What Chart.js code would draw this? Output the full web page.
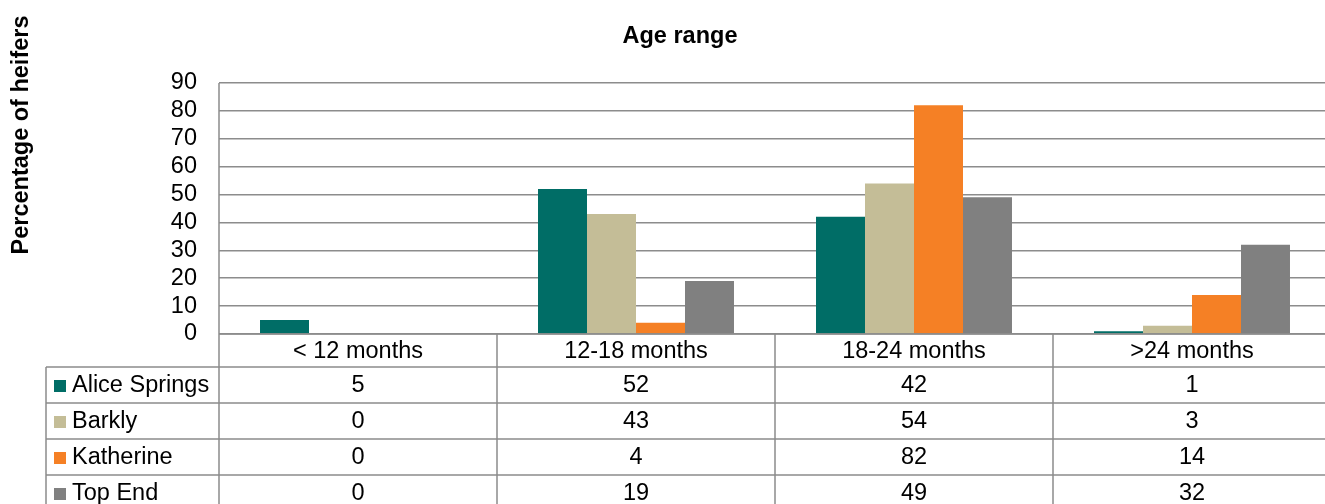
<!DOCTYPE html>
<html>
<head>
<meta charset="utf-8">
<script src="https://cdn.jsdelivr.net/npm/chart.js@4.4.1/dist/chart.umd.min.js"></script>
<style>
  html, body { margin: 0; padding: 0; background: #fff; overflow: hidden; }
  #wrap { width: 1360px; height: 504px; }
</style>
</head>
<body>
<div id="wrap"><canvas id="heiferChart" width="1360" height="504"></canvas></div>
<script>
// Age range categories and the percentage of heifers per region
const categories = ['< 12 months', '12-18 months', '18-24 months', '>24 months'];
const aliceSprings = [5, 52, 42, 1];
const barkly = [0, 43, 54, 3];
const katherine = [0, 4, 82, 14];
const topEnd = [0, 19, 49, 32];
const yTicks = [0, 10, 20, 30, 40, 50, 60, 70, 80, 90];

const FONT = '"Liberation Sans", Arial, sans-serif';
const LINE = '#8c8c8c';

const seriesList = [
  { label: 'Alice Springs', data: aliceSprings, color: '#006d66' },
  { label: 'Barkly', data: barkly, color: '#c4bd97' },
  { label: 'Katherine', data: katherine, color: '#f58025' },
  { label: 'Top End', data: topEnd, color: '#808080' }
];

// Draws the title, rotated axis title and the data table under the bars
const tablePlugin = {
  id: 'dataTable',
  afterDraw(chart) {
    const ctx = chart.ctx;
    const area = chart.chartArea;
    const xs = chart.scales.x;
    const half = (xs.getPixelForValue(1) - xs.getPixelForValue(0)) / 2;
    const left = area.left, right = area.right, bottom = area.bottom;
    const headerBottom = 367;
    const rowH = 36;
    const keyLeft = 46;

    ctx.save();
    // titles
    ctx.fillStyle = '#000';
    ctx.font = 'bold 23.5px ' + FONT;
    ctx.textAlign = 'center';
    ctx.textBaseline = 'middle';
    ctx.fillText('Age range', chart.width / 2, 37);
    ctx.save();
    ctx.translate(22, 135);
    ctx.rotate(-Math.PI / 2);
    ctx.fillText('Percentage of heifers', 0, 0);
    ctx.restore();

    // table lines
    ctx.strokeStyle = LINE;
    ctx.lineWidth = 1.5;
    ctx.beginPath();
    ctx.moveTo(left, bottom); ctx.lineTo(right + 40, bottom);
    for (let r = 0; r <= seriesList.length; r++) {
      const y = headerBottom + r * rowH;
      ctx.moveTo(keyLeft, y); ctx.lineTo(right + 40, y);
    }
    categories.forEach((c, i) => {
      const x = xs.getPixelForValue(i) + half;
      ctx.moveTo(x, bottom); ctx.lineTo(x, chart.height);
    });
    ctx.moveTo(left, area.top); ctx.lineTo(left, chart.height);
    ctx.moveTo(keyLeft, headerBottom); ctx.lineTo(keyLeft, chart.height);
    ctx.stroke();

    // header row
    ctx.font = '23.5px ' + FONT;
    ctx.textAlign = 'center';
    categories.forEach((c, i) => {
      ctx.fillText(c, xs.getPixelForValue(i), (bottom + headerBottom) / 2 + 1);
    });

    // data rows
    seriesList.forEach((s, r) => {
      const cy = headerBottom + r * rowH + rowH / 2 + 1;
      ctx.fillStyle = s.color;
      ctx.fillRect(54, cy - 6, 12, 12);
      ctx.fillStyle = '#000';
      ctx.textAlign = 'left';
      ctx.fillText(s.label, 72, cy);
      ctx.textAlign = 'center';
      s.data.forEach((v, i) => {
        ctx.fillText(String(v), xs.getPixelForValue(i), cy);
      });
    });
    ctx.restore();
  }
};

const chartData = {
  labels: categories,
  datasets: seriesList.map(s => ({
    label: s.label,
    data: s.data,
    backgroundColor: s.color,
    borderWidth: 0,
    categoryPercentage: 0.705,
    barPercentage: 1
  }))
};

new Chart(document.getElementById('heiferChart'), {
  type: 'bar',
  data: chartData,
  options: {
    responsive: false,
    animation: false,
    layout: { padding: { top: 83, right: 29, bottom: 170, left: 0 } },
    plugins: {
      legend: { display: false },
      title: { display: false },
      tooltip: { enabled: false }
    },
    scales: {
      x: {
        ticks: { display: false },
        grid: { display: false },
        border: { display: false },
        afterFit(scale) { scale.height = 0; }
      },
      y: {
        min: 0,
        max: 90,
        afterBuildTicks(scale) { scale.ticks = yTicks.map(v => ({ value: v })); },
        ticks: {
          autoSkip: false,
          padding: 22,
          color: '#000',
          font: { family: FONT, size: 23.5, lineHeight: 1 }
        },
        grid: { color: LINE, lineWidth: 1.5, drawTicks: false },
        border: { display: false },
        afterFit(scale) { scale.width = 219; }
      }
    }
  },
  plugins: [tablePlugin]
});
</script>
</body>
</html>
